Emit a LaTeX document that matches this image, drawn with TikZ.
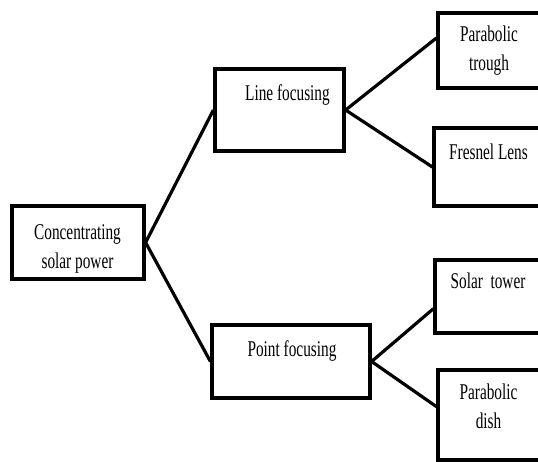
\documentclass[tikz,border=0pt]{standalone}
\usepackage{fontspec}
\setmainfont[FakeStretch=0.68]{Liberation Serif}
\usetikzlibrary{calc}
\begin{document}
\begin{tikzpicture}[x=1pt, y=-1pt, line width=3.2pt,
  box/.style={draw, rectangle, inner sep=0pt},
  lbl/.style={font=\fontsize{22.5}{29}\selectfont, align=center, inner sep=0pt, anchor=base}]
\useasboundingbox (0,0) rectangle (538,461);
\clip (0,0) rectangle (538,461);
% boxes (right column runs off the page)
\node[box, minimum width=132pt, minimum height=73pt] (csp) at (78,242.5) {};
\node[box, minimum width=129pt, minimum height=82pt] (line) at (279.5,110) {};
\node[box, minimum width=158pt, minimum height=73pt] (point) at (291,361.5) {};
\node[box, minimum width=122pt, minimum height=75pt] (trough) at (499,50.5) {};
\node[box, minimum width=126pt, minimum height=78pt] (fresnel) at (497,167) {};
\node[box, minimum width=125pt, minimum height=73pt] (tower) at (497.5,296.5) {};
\node[box, minimum width=122pt, minimum height=90pt] (dish) at (499,415) {};
% texts (base = last line)
\node[lbl] (csptext) at (77.5,268) {Concentrating\\solar power};
\node[lbl] (linetext) at (287.5,100.5) {Line focusing};
\node[lbl] (pointtext) at (292,356) {Point focusing};
\node[lbl] (troughtext) at (489,70) {Parabolic\\trough};
\node[lbl] (fresneltext) at (488.5,159.5) {Fresnel Lens};
\node[lbl] (towertext) at (488,288) {Solar\ \ tower};
\node[lbl] (dishtext) at (488.5,428) {Parabolic\\dish};
% connectors
\draw (csp.east) -- (line.west);
\draw (csp.east) -- (point.west);
\draw (line.east) -- ($(trough.north west)!0.34!(trough.south west)$);
\draw (line.east) -- (fresnel.west);
\draw (point.east) -- ($(tower.north west)!0.66!(tower.south west)$);
\draw (point.east) -- ($(dish.north west)!0.41!(dish.south west)$);
\end{tikzpicture}
\end{document}
